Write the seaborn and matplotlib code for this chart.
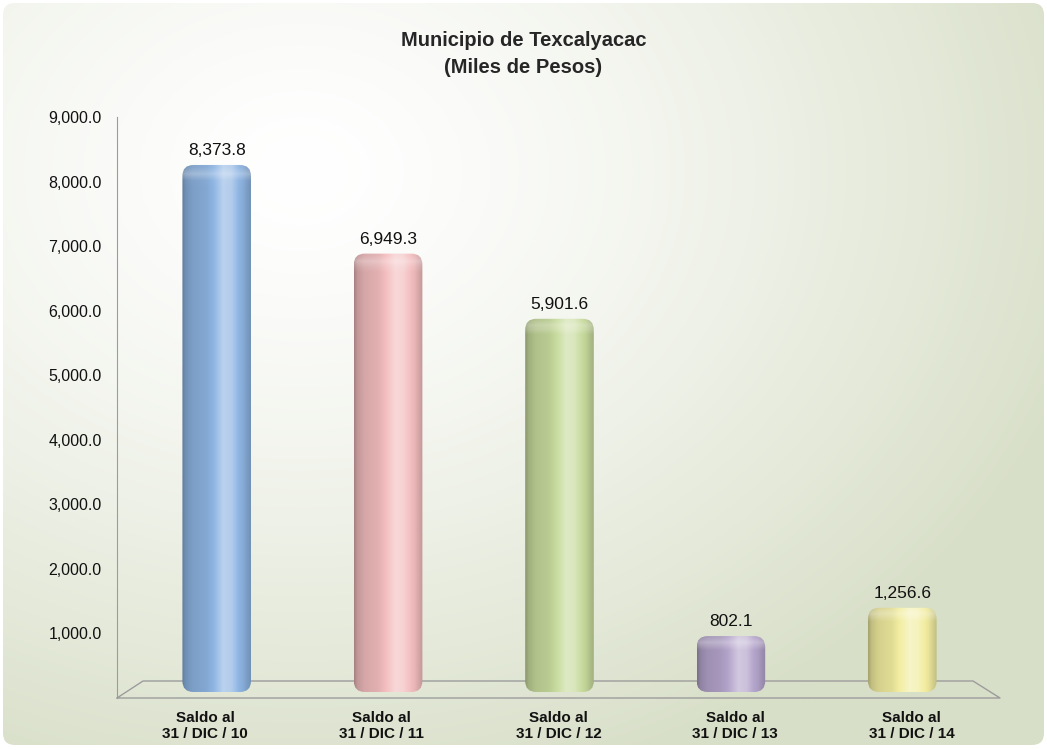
import numpy as np
import pandas as pd
import matplotlib
matplotlib.use("Agg")
import matplotlib.pyplot as plt
import seaborn as sns
from matplotlib.patches import FancyBboxPatch
from matplotlib.colors import to_rgb

# ---- data ----
categories = ["Saldo al\n31 / DIC / 10", "Saldo al\n31 / DIC / 11", "Saldo al\n31 / DIC / 12",
              "Saldo al\n31 / DIC / 13", "Saldo al\n31 / DIC / 14"]
values = [8373.8, 6949.3, 5901.6, 802.1, 1256.6]
bar_colors = ["#8DB4E2", "#F3BDBE", "#C8DB9D", "#B4A4CB", "#F2EDA0"]
yticks = [1000, 2000, 3000, 4000, 5000, 6000, 7000, 8000, 9000]
title_lines = "Municipio de Texcalyacac\n(Miles de Pesos)"

df = pd.DataFrame({"cat": categories, "val": values})

sns.set_style("white")
plt.rcParams["font.family"] = ["Liberation Sans", "DejaVu Sans"]

FW, FH = 1047, 750
fig = plt.figure(figsize=(FW / 100, FH / 100), dpi=100)


def fig_rect(x0, y0, x1, y1):
    """pixel box (top-left origin) -> figure fraction rect"""
    return [x0 / FW, 1 - y1 / FH, (x1 - x0) / FW, (y1 - y0) / FH]


# ---- background panel with soft gradient ----
bg = fig.add_axes([0, 0, 1, 1], zorder=0)
bg.set_xlim(0, FW)
bg.set_ylim(FH, 0)
bg.axis("off")
H, W = 300, 420
yy, xx = np.mgrid[0:H, 0:W]
gx = xx / W * FW
gy = yy / H * FH
d = np.sqrt(((gx - 300) / 820) ** 2 + ((gy - 170) / 640) ** 2)
t = np.clip(d, 0, 1) ** 1.4
white = np.array([1.0, 1.0, 1.0])
green = np.array(to_rgb("#D8DFC8"))
img = white[None, None, :] * (1 - t[..., None]) + green[None, None, :] * t[..., None]
frame = FancyBboxPatch((3, 3), 1041, 742, boxstyle="round,pad=0,rounding_size=12",
                       facecolor="none", edgecolor="none", transform=bg.transData)
bg.add_patch(frame)
im = bg.imshow(img, extent=[0, FW, FH, 0], aspect="auto", interpolation="bilinear")
im.set_clip_path(frame)

# floor plane (drawn in pixel space of the background axes)
floor_x = [117, 143, 973, 1000, 117]
floor_y = [698, 681, 681, 698, 698]
bg.plot(floor_x, floor_y, color="#9C9C9C", lw=1.0, zorder=2)

# ---- value axis (front) ----
ax = fig.add_axes(fig_rect(117, 117, 1000, 698), zorder=1)
ax.patch.set_alpha(0)
ax.set_ylim(0, 9000)
ax.set_xlim(-0.5, len(categories) - 0.5)
for s in ["top", "right", "bottom"]:
    ax.spines[s].set_visible(False)
ax.spines["left"].set_color("#9C9C9C")
ax.set_yticks(yticks)
ax.set_yticklabels([f"{v:,.1f}" for v in yticks], fontsize=11.5, color="#111111")
ax.tick_params(axis="y", length=5, color="#9C9C9C", direction="out", pad=6)
ax.set_xticks(range(len(categories)))
ax.set_xticklabels(categories, fontsize=11, fontweight="bold", color="#111111",
                   linespacing=1.25)
ax.tick_params(axis="x", length=0, pad=9)
ax.set_xticks(np.arange(-0.5, len(categories), 1), minor=True)
ax.tick_params(axis="x", which="minor", length=5, color="#9C9C9C")

# ---- bars (set back on the floor) ----
BAR_TOP, BAR_ZERO, BAR_FOOT = 126, 686, 693
px_y = 9000 / (BAR_ZERO - BAR_TOP)       # data y per pixel
px_x = len(categories) / (988 - 131)     # data x per pixel
y_low = -(BAR_FOOT - BAR_ZERO) * px_y

bx = fig.add_axes(fig_rect(131, BAR_TOP, 988, BAR_FOOT), zorder=2)
bx.patch.set_alpha(0)
bx.axis("off")
sns.barplot(data=df, x="cat", y="val", hue="cat", palette=bar_colors, legend=False,
            width=0.40, ax=bx, saturation=1)
bx.set_ylim(y_low, 9000)
bx.set_xlim(-0.5, len(categories) - 0.5)

foot = 6 * px_y
prof = np.linspace(0, 1, 200)
# horizontal cylinder shading: dark rims, highlight right of centre
shade = np.interp(prof, [0, 0.05, 0.15, 0.35, 0.6, 0.72, 0.88, 1.0],
                  [0.68, 0.80, 0.88, 0.93, 1.10, 1.08, 0.96, 0.80])
for patch, col in zip(bx.patches, bar_colors):
    x0 = patch.get_x()
    w = patch.get_width()
    h = patch.get_height()
    base = np.array(to_rgb(col))
    dark = base[None, :] * np.minimum(shade, 1)[:, None]
    light = np.clip(shade - 1, 0, None)[:, None] * 4.0
    row = np.clip(dark + light * (1 - dark), 0, 1)
    nv = 80
    grad = np.repeat(row[None, :, :], nv, axis=0)
    # soft highlight on the rounded cap
    depth_px = np.linspace(0, (h + foot) / px_y, nv)
    cap = np.clip(1 - np.abs(depth_px - 6) / 8, 0, 1)[:, None, None] * 0.3
    grad = np.clip(grad + cap * (1 - grad), 0, 1)
    rs = 11 * px_x
    bb = FancyBboxPatch((x0, -foot), w, h + foot,
                        boxstyle=f"round,pad=0,rounding_size={rs}",
                        mutation_aspect=px_y / px_x,
                        facecolor="none", edgecolor="none", transform=bx.transData)
    bx.add_patch(bb)
    gi = bx.imshow(grad, extent=[x0, x0 + w, -foot, h], origin="upper",
                   aspect="auto", interpolation="bilinear", zorder=3)
    gi.set_clip_path(bb)
    patch.set_alpha(0)
    bx.text(x0 + w / 2, h + 7 * px_y, f"{h:,.1f}", ha="center", va="bottom",
            fontsize=12.5, color="#111111", zorder=4)
bx.set_ylim(y_low, 9000)
bx.set_xlim(-0.5, len(categories) - 0.5)
bx.set_aspect("auto")

fig.text(0.5, 1 - 54 / FH, title_lines, ha="center", va="center", fontsize=14.5,
         fontweight="bold", linespacing=1.5)

fig.savefig("out.png", dpi=100)
